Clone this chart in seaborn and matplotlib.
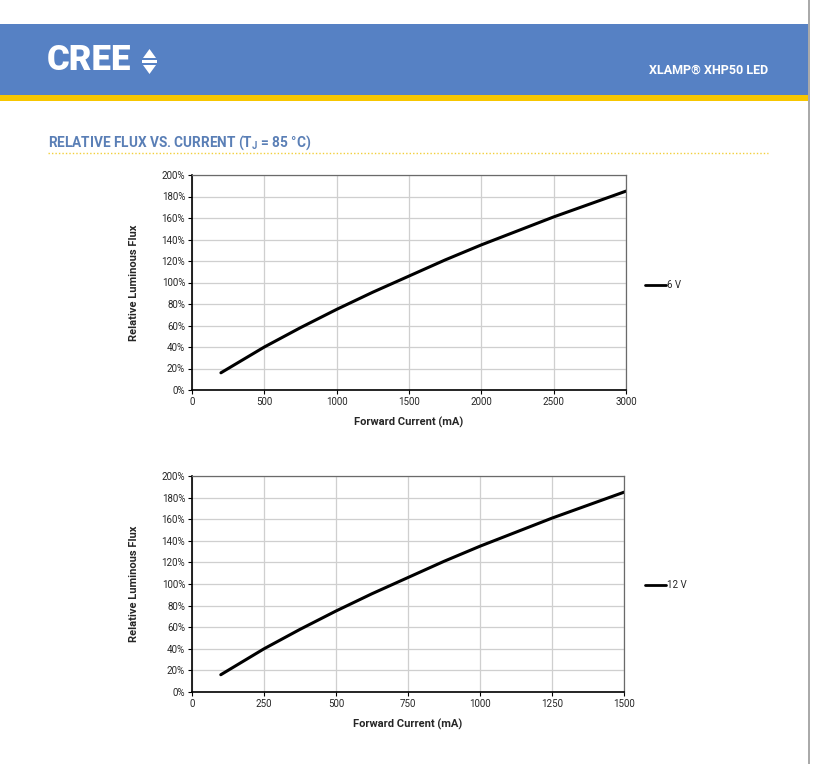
import matplotlib
matplotlib.use("Agg")
import matplotlib.pyplot as plt
import seaborn as sns
import pandas as pd
from matplotlib.patches import Rectangle, Polygon
from matplotlib.lines import Line2D
from matplotlib.ticker import FuncFormatter

current_6v = [200, 250, 500, 750, 1000, 1250, 1500, 1750, 2000, 2250, 2500, 2750, 3000]
flux_6v = [16, 20, 40, 58, 75, 91, 106, 121, 135, 148, 161, 173, 185]
current_12v = [100, 125, 250, 375, 500, 625, 750, 875, 1000, 1125, 1250, 1375, 1500]
flux_12v = [16, 20, 40, 58, 75, 91, 106, 121, 135, 148, 161, 173, 185]
label_6v = "6 V"
label_12v = "12 V"
y_ticks = [0, 20, 40, 60, 80, 100, 120, 140, 160, 180, 200]
x_ticks_6v = [0, 500, 1000, 1500, 2000, 2500, 3000]
x_ticks_12v = [0, 250, 500, 750, 1000, 1250, 1500]

sns.set_theme(style="white")
plt.rcParams['font.family'] = ['Roboto', 'DejaVu Sans']

W, H = 818, 764
fig = plt.figure(figsize=(W / 100, H / 100), dpi=100)
fig.patch.set_facecolor("white")

def fx(px):
    return px / W

def fy(py):
    return 1 - py / H

# header banner
fig.patches.append(Rectangle((0, fy(95)), fx(808), (95 - 24) / H, transform=fig.transFigure,
                             facecolor="#5681c4", edgecolor="none", zorder=0))
fig.patches.append(Rectangle((0, fy(101)), fx(808), 6 / H, transform=fig.transFigure,
                             facecolor="#f7c600", edgecolor="none", zorder=0))
# right page border
fig.add_artist(Line2D([fx(808.5), fx(808.5)], [0, 1], transform=fig.transFigure,
                      color="#9a9a9a", lw=1.2))

fig.text(fx(47), fy(61), "CREE", color="white", fontsize=25, fontweight="heavy",
         va="center", ha="left")
# logo arrows
fig.patches.append(Polygon([[fx(143), fy(58)], [fx(156), fy(58)], [fx(149.5), fy(49)]],
                           closed=True, transform=fig.transFigure, facecolor="white",
                           edgecolor="none"))
fig.patches.append(Polygon([[fx(143), fy(65)], [fx(156), fy(65)], [fx(149.5), fy(74)]],
                           closed=True, transform=fig.transFigure, facecolor="white",
                           edgecolor="none"))
fig.patches.append(Rectangle((fx(142), fy(62.6)), 15 / W, 2.2 / H, transform=fig.transFigure,
                             facecolor="white", edgecolor="none"))
fig.text(fx(768), fy(70), "XLAMP® XHP50 LED", color="white", fontsize=9,
         fontweight="bold", va="center", ha="right")

fig.text(fx(48), fy(143), r"RELATIVE FLUX VS. CURRENT (T$_\mathregular{J}$ = 85 °C)",
         color="#5a7fb6", fontsize=9.8, fontweight="bold", va="center", ha="left")
fig.add_artist(Line2D([fx(48), fx(768)], [fy(153), fy(153)], transform=fig.transFigure,
                      color="#f2cf3a", lw=1, ls=(0, (1, 1.5))))

def make_panel(rect, x, y, label, xticks, xmax, legend_y):
    left, top, right, bottom = rect
    ax = fig.add_axes([fx(left), fy(bottom), (right - left) / W, (bottom - top) / H])
    df = pd.DataFrame({"current": x, "flux": y, "series": label})
    sns.lineplot(data=df, x="current", y="flux", hue="series", palette=["black"],
                 lw=2.2, ax=ax, legend=False)
    ax.set_xlim(0, xmax)
    ax.set_ylim(0, 200)
    ax.set_xticks(xticks)
    ax.set_yticks(y_ticks)
    ax.yaxis.set_major_formatter(FuncFormatter(lambda v, p: f"{int(v)}%"))
    ax.grid(True, color="#cfcfcf", lw=0.9)
    ax.set_axisbelow(True)
    for s in ["top", "right"]:
        ax.spines[s].set_color("#6a6a6a")
        ax.spines[s].set_linewidth(0.9)
    for s in ["left", "bottom"]:
        ax.spines[s].set_color("black")
        ax.spines[s].set_linewidth(1.2)
    ax.tick_params(axis="both", labelsize=7, length=3, width=0.8, color="black",
                   pad=2, bottom=True, left=True)
    ax.set_xlabel("Forward Current (mA)", fontsize=8, fontweight="bold", labelpad=7)
    ax.set_ylabel("Relative Luminous Flux", fontsize=8, fontweight="bold", labelpad=16)
    handle = Line2D([0], [0], color="black", lw=2)
    fig.legend([handle], [label], loc="center left",
               bbox_to_anchor=(fx(636), fy(legend_y)), frameon=False,
               fontsize=7, handlelength=2.2, handletextpad=0.1)
    return ax

make_panel((192, 175, 626, 390), current_6v, flux_6v, label_6v, x_ticks_6v, 3000, 285)
make_panel((192, 476, 624, 692), current_12v, flux_12v, label_12v, x_ticks_12v, 1500, 585)

fig.savefig("out.png", dpi=100)
